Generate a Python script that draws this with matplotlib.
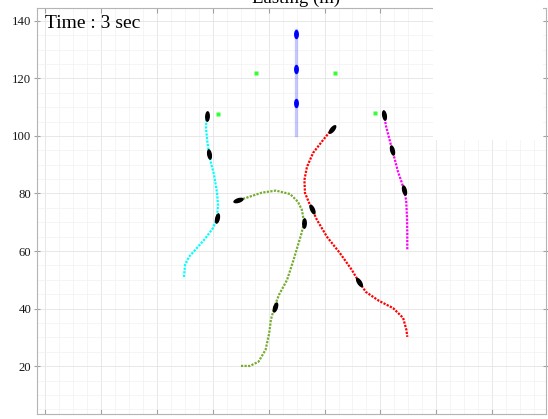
import numpy as np
import matplotlib
matplotlib.use("Agg")
import matplotlib.pyplot as plt
from matplotlib.markers import MarkerStyle
from matplotlib.path import Path
from matplotlib.transforms import Affine2D
from matplotlib.ticker import MultipleLocator, AutoMinorLocator
from matplotlib.patches import Rectangle

plt.rcParams["font.family"] = ["Liberation Serif", "DejaVu Serif"]

# trajectories (m)
cyan_x = [49.7, 50.1, 51.5, 54.0, 57.2, 60.1, 61.5, 61.9, 61.5, 60.5, 59.4, 58.7, 58.0, 57.6, 57.8]
cyan_y = [51.0, 55.2, 58.0, 60.7, 64.2, 68.0, 71.5, 76.0, 80.5, 86.4, 90.5, 93.7, 98.6, 102.7, 106.9]

magenta_x = [121.3, 122.0, 123.1, 124.2, 125.2, 126.3, 127.7, 128.4, 129.2, 129.5, 129.6, 129.6]
magenta_y = [107.3, 103.4, 99.3, 95.1, 91.6, 87.5, 83.6, 81.2, 77.7, 71.8, 66.3, 60.4]

red_x = [102.7, 99.5, 95.9, 93.7, 92.8, 93.0, 94.5, 95.5, 97.3, 100.9, 105.5, 109.8,
         112.3, 114.8, 119.5, 124.5, 128.1, 129.3, 129.6]
red_y = [102.4, 98.6, 94.1, 89.2, 84.7, 80.2, 76.7, 74.6, 70.8, 64.9, 59.3, 53.4,
         49.3, 45.8, 42.7, 40.2, 36.8, 32.6, 30.2]

green_x = [70.1, 73.3, 76.4, 78.9, 80.2, 80.8, 82.1, 83.7, 86.6, 88.9, 90.5, 91.6,
           92.7, 91.9, 90.5, 87.7, 82.6, 77.6, 72.3, 69.1]
green_y = [20.1, 20.1, 21.6, 25.7, 31.5, 36.1, 40.7, 44.8, 50.0, 56.9, 62.1, 65.6,
           69.8, 74.3, 77.1, 79.8, 81.0, 80.3, 78.6, 77.6]

# vehicle positions at t = 3 s
cyan_car_x = [57.8, 58.7, 61.5]
cyan_car_y = [106.9, 93.7, 71.5]
magenta_car_x = [121.3, 124.2, 128.4]
magenta_car_y = [107.3, 95.1, 81.2]
red_car_x = [102.7, 95.5, 112.3]
red_car_y = [102.4, 74.6, 49.3]
green_car_x = [69.1, 92.7, 82.1]
green_car_y = [77.6, 69.8, 40.7]

# leading column
lead_x = 89.8
lead_line_y = [100.3, 136.8]
lead_car_y = [111.5, 123.3, 135.4]

# waypoints
wp_x = [61.8, 75.5, 103.9, 118.1]
wp_y = [107.6, 121.9, 121.9, 107.8]

fig = plt.figure(figsize=(5.48, 4.19), dpi=100)
ax = fig.add_axes([0.0684, 0.0119, 0.9288, 0.9702])
ax.set_xlim(-2.7, 179.4)
ax.set_ylim(3.4, 144.6)

ax.xaxis.set_major_locator(MultipleLocator(20))
ax.yaxis.set_major_locator(MultipleLocator(20))
ax.xaxis.set_minor_locator(AutoMinorLocator(4))
ax.yaxis.set_minor_locator(AutoMinorLocator(4))
ax.grid(True, which="major", color="#e4e4e4", lw=0.6)
ax.grid(True, which="minor", color="#f2f2f2", lw=0.5)
ax.set_axisbelow(True)

for s in ax.spines.values():
    s.set_color("#b4b4b4")
    s.set_linewidth(0.8)
ax.tick_params(axis="x", which="major", direction="in", top=True, length=3.5,
               color="#a0a0a0", labelbottom=False)
ax.tick_params(axis="y", which="major", direction="inout", right=True, length=5,
               color="#a0a0a0", labelsize=9.2, labelcolor="#1a1a1a", pad=2)
ax.tick_params(which="minor", length=0)

# blank panel in the upper right corner
ax.add_patch(Rectangle((433 / 548, 1 - 140 / 419), 110 / 548, 138 / 419,
                       transform=fig.transFigure, facecolor="white",
                       edgecolor="none", zorder=3, clip_on=False))

dots = dict(lw=1.6, linestyle=(0, (1, 0.6)), zorder=4)
ax.plot(cyan_x, cyan_y, color="#00ffff", **dots)
ax.plot(magenta_x, magenta_y, color="#ff00ff", **dots)
ax.plot(red_x, red_y, color="#ff0000", **dots)
ax.plot(green_x, green_y, color="#77ac30", **dots)

ax.plot([lead_x, lead_x], lead_line_y, color="blue", alpha=0.22, lw=2.4, zorder=4)
ax.plot(wp_x, wp_y, "s", color="#33ff33", ms=2.6, mec="none", zorder=4)


def ellipse_marker(angle, ratio=0.45):
    return MarkerStyle(Path.unit_circle(),
                       transform=Affine2D().scale(1, ratio).rotate_deg(angle))


def heading(px, py, cx, cy):
    # direction of the path at the vertex nearest to (cx, cy), in screen space
    pts = ax.transData.transform(np.column_stack([px, py]))
    c = ax.transData.transform((cx, cy))
    i = int(np.argmin(np.hypot(*(pts - c).T)))
    a = pts[max(i - 1, 0)]
    b = pts[min(i + 1, len(pts) - 1)]
    return np.degrees(np.arctan2(b[1] - a[1], b[0] - a[0]))


cars = [(cyan_x, cyan_y, cyan_car_x, cyan_car_y),
        (magenta_x, magenta_y, magenta_car_x, magenta_car_y),
        (red_x, red_y, red_car_x, red_car_y),
        (green_x, green_y, green_car_x, green_car_y)]
for px, py, cxs, cys in cars:
    for cx, cy in zip(cxs, cys):
        ang = heading(px, py, cx, cy)
        ax.plot(cx, cy, marker=ellipse_marker(ang), ms=7.8, color="black",
                mec="none", zorder=5)

for cy in lead_car_y:
    ax.plot(lead_x, cy, marker=ellipse_marker(90, 0.52), ms=6.8, color="blue",
            mec="none", zorder=5)

ax.text(0.0147, 0.949, "Time : 3 sec", transform=ax.transAxes, fontsize=14,
        va="baseline", ha="left", zorder=6)
ax.text(0.508, 1.0103, "Easting (m)", transform=ax.transAxes, fontsize=13.5,
        va="baseline", ha="center", clip_on=False)

fig.savefig("out.png", dpi=100)
